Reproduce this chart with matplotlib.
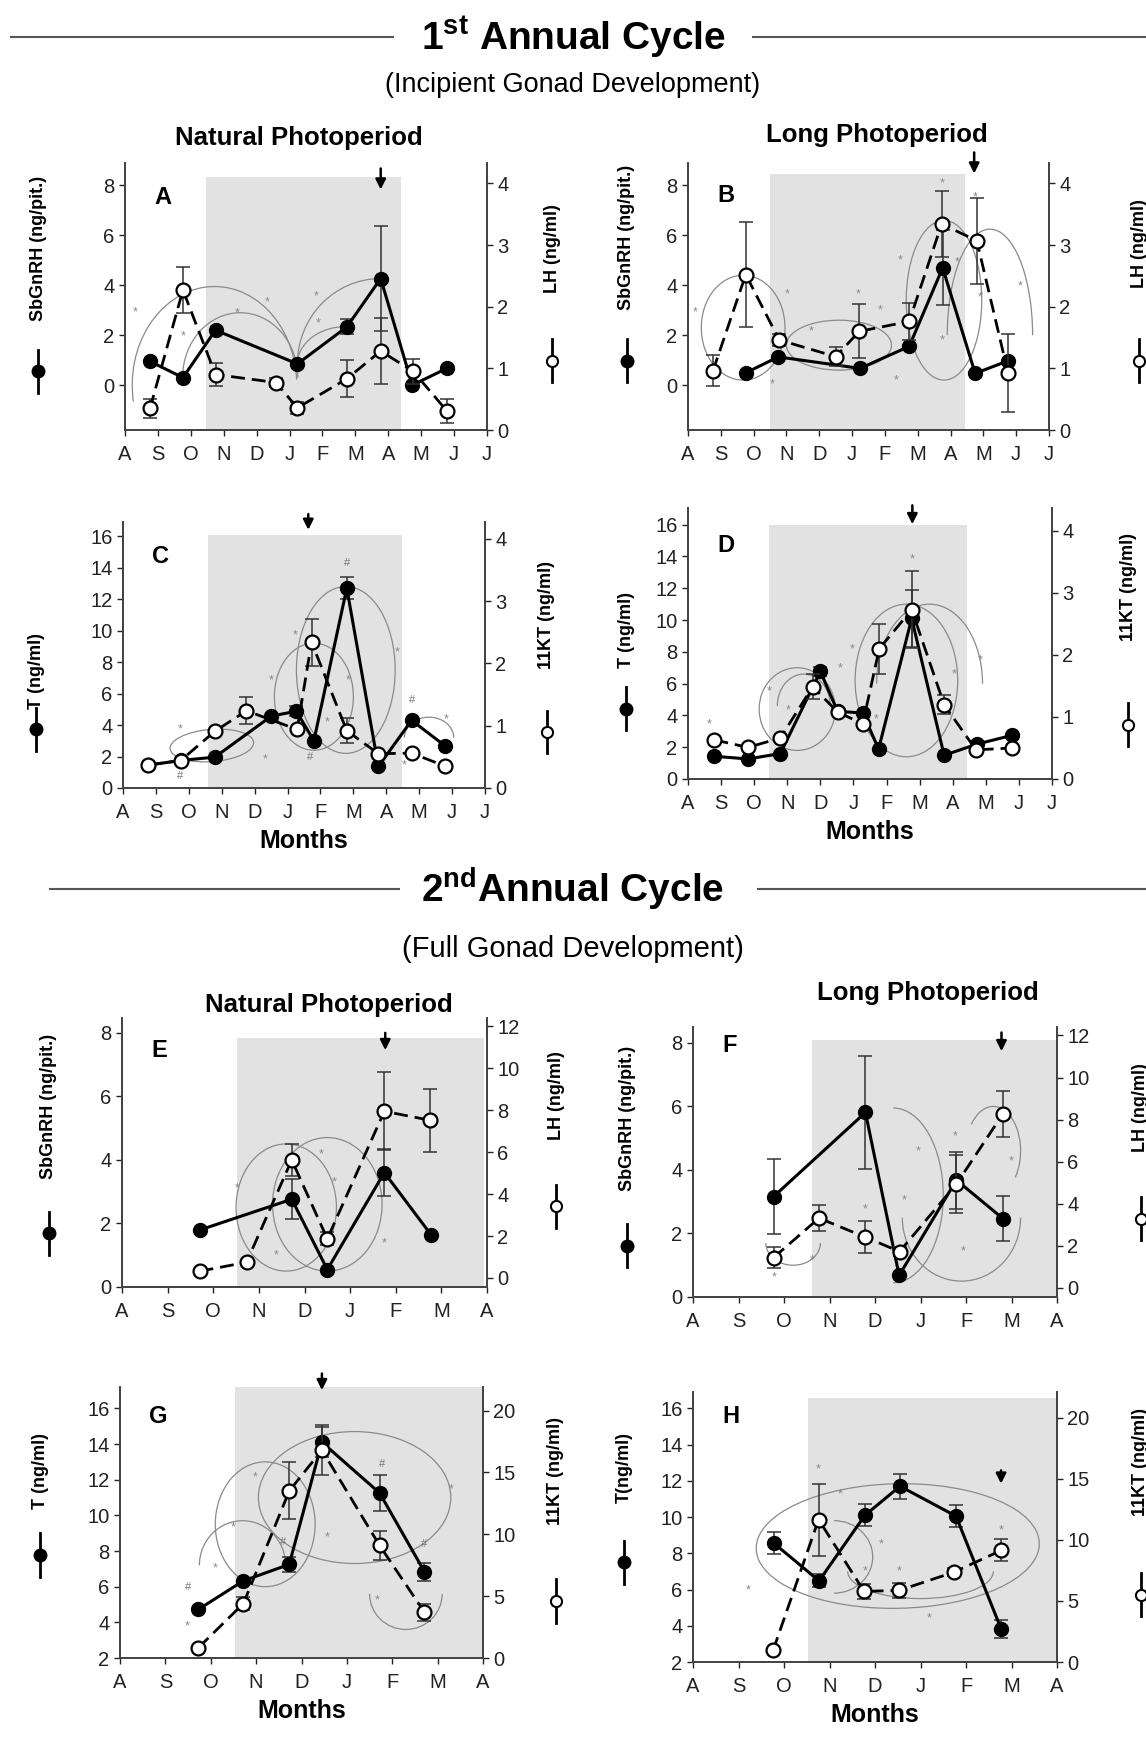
import numpy as np
import matplotlib
matplotlib.use("Agg")
import matplotlib.pyplot as plt
from matplotlib.patches import Arc
from matplotlib.lines import Line2D

plt.rcParams['font.family'] = ['Liberation Sans', 'DejaVu Sans']
plt.rcParams['mathtext.fontset'] = 'custom'
plt.rcParams['mathtext.rm'] = 'Liberation Sans'
plt.rcParams['mathtext.bf'] = 'Liberation Sans:bold'
plt.rcParams['xtick.labelsize'] = 14.5
plt.rcParams['ytick.labelsize'] = 14.5

W, H = 1146, 1737

# ---- data (x = months since August, left axis = filled, right axis = open) ----
months12 = ['A', 'S', 'O', 'N', 'D', 'J', 'F', 'M', 'A', 'M', 'J', 'J']
months9 = ['A', 'S', 'O', 'N', 'D', 'J', 'F', 'M', 'A']

# A: SbGnRH / LH, natural photoperiod, 1st cycle
a_fill_x = [0.76, 1.76, 2.75, 5.24, 6.74, 7.77, 8.73, 9.78]
a_fill_y = [0.95, 0.3, 2.2, 0.85, 2.33, 4.27, 0.0, 0.67]
a_fill_e = [0, 0, 0, 0, 0.3, 2.1, 0, 0]
a_open_x = [0.76, 1.76, 2.75, 4.58, 5.24, 6.74, 7.77, 8.76, 9.78]
a_open_y = [0.35, 2.27, 0.9, 0.77, 0.36, 0.83, 1.28, 0.95, 0.31]
a_open_e = [0.15, 0.37, 0.19, 0.08, 0.1, 0.3, 0.54, 0.2, 0.2]

# B: SbGnRH / LH, long photoperiod, 1st cycle
b_fill_x = [1.76, 2.75, 5.24, 6.74, 7.76, 8.75, 9.75]
b_fill_y = [0.49, 1.13, 0.67, 1.55, 4.7, 0.47, 0.97]
b_fill_e = [0, 0, 0, 0, 1.5, 0, 0]
b_open_x = [0.76, 1.76, 2.78, 4.5, 5.22, 6.74, 7.73, 8.8, 9.75]
b_open_y = [0.96, 2.52, 1.46, 1.19, 1.6, 1.76, 3.34, 3.07, 0.93]
b_open_e = [0.25, 0.85, 0.1, 0.15, 0.44, 0.3, 0.54, 0.7, 0.63]

# C: T / 11KT, natural photoperiod, 1st cycle
c_fill_x = [0.76, 1.75, 2.79, 4.51, 5.27, 5.8, 6.8, 7.76, 8.77, 9.79]
c_fill_y = [1.45, 1.75, 1.96, 4.57, 4.88, 3.0, 12.7, 1.37, 4.3, 2.67]
c_fill_e = [0, 0, 0, 0, 0.3, 0, 0.7, 0, 0, 0]
c_open_x = [0.76, 1.75, 2.79, 3.75, 5.29, 5.73, 6.8, 7.76, 8.77, 9.79]
c_open_y = [0.37, 0.44, 0.91, 1.24, 0.94, 2.34, 0.92, 0.55, 0.56, 0.35]
c_open_e = [0, 0, 0, 0.22, 0, 0.38, 0.2, 0, 0, 0]

# D: T / 11KT, long photoperiod, 1st cycle
d_fill_x = [0.8, 1.81, 2.79, 4.0, 4.52, 5.28, 5.76, 6.76, 7.74, 8.74, 9.8]
d_fill_y = [1.43, 1.26, 1.6, 6.77, 4.26, 4.15, 1.89, 10.1, 1.49, 2.2, 2.75]
d_fill_e = [0, 0, 0, 0.3, 0, 0, 0, 1.8, 0, 0, 0]
d_open_x = [0.8, 1.81, 2.79, 3.77, 4.52, 5.28, 5.78, 6.76, 7.74, 8.7, 9.8]
d_open_y = [0.63, 0.51, 0.66, 1.49, 1.08, 0.89, 2.1, 2.73, 1.2, 0.47, 0.5]
d_open_e = [0, 0, 0, 0.2, 0, 0, 0.4, 0.62, 0.15, 0, 0]

# E: SbGnRH / LH, natural photoperiod, 2nd cycle
e_fill_x = [1.7, 3.72, 4.5, 5.75, 6.78]
e_fill_y = [1.79, 2.76, 0.55, 3.6, 1.63]
e_fill_e = [0, 0.63, 0, 0.75, 0]
e_open_x = [1.7, 2.73, 3.72, 4.5, 5.75, 6.76]
e_open_y = [0.32, 0.75, 5.63, 1.87, 7.95, 7.52]
e_open_e = [0, 0, 0.77, 0.3, 1.86, 1.5]

# F: SbGnRH / LH, long photoperiod, 2nd cycle
f_fill_x = [1.77, 3.79, 4.53, 5.79, 6.81]
f_fill_y = [3.16, 5.81, 0.68, 3.68, 2.47]
f_fill_e = [1.17, 1.78, 0, 0.9, 0.7]
f_open_x = [1.77, 2.77, 3.79, 4.54, 5.79, 6.81]
f_open_y = [1.44, 3.32, 2.41, 1.73, 4.94, 8.27]
f_open_e = [0.5, 0.6, 0.75, 0.2, 1.4, 1.1]

# G: T / 11KT, natural photoperiod, 2nd cycle
g_fill_x = [1.73, 2.72, 3.73, 4.45, 5.72, 6.71]
g_fill_y = [4.73, 6.33, 7.25, 14.1, 11.26, 6.84]
g_fill_e = [0, 0, 0.4, 0.85, 1.0, 0.5]
g_open_x = [1.73, 2.72, 3.73, 4.45, 5.72, 6.71]
g_open_y = [0.84, 4.4, 13.5, 16.8, 9.1, 3.7]
g_open_e = [0, 0.5, 2.3, 2.0, 1.2, 0.7]

# H: T / 11KT, long photoperiod, 2nd cycle
h_fill_x = [1.77, 2.77, 3.78, 4.55, 5.78, 6.77]
h_fill_y = [8.57, 6.48, 10.1, 11.7, 10.05, 3.84]
h_fill_e = [0.6, 0.35, 0.6, 0.7, 0.6, 0.5]
h_open_x = [1.76, 2.76, 3.76, 4.53, 5.74, 6.77]
h_open_y = [0.95, 11.66, 5.78, 5.86, 7.36, 9.13]
h_open_e = [0, 2.95, 0.6, 0.6, 0.3, 0.9]

# significance marks (left-axis units)
a_star = [(0.31, 2.93), (1.76, 1.96), (3.41, 2.87), (4.33, 3.33), (5.8, 3.57), (5.86, 2.47)]
b_star = [(0.23, 2.9), (3.02, 3.64), (2.57, 0.03), (3.76, 2.13), (5.19, 3.64), (5.85, 3.0),
          (6.46, 5.0), (6.33, 0.2), (7.73, 8.1), (7.73, 1.8), (8.19, 4.93), (8.75, 7.53),
          (8.9, 3.53), (10.12, 3.96)]
c_star = [(1.74, 3.73), (4.31, 1.79), (4.51, 6.84), (5.22, 9.68), (6.21, 4.15), (6.85, 6.84),
          (8.32, 8.63), (8.55, 1.43), (9.82, 4.36)]
c_hash = [(1.72, 0.74), (5.68, 2.0), (6.8, 14.3), (8.77, 5.58)]
d_star = [(0.63, 3.46), (2.46, 5.51), (3.02, 4.3), (4.6, 6.98), (4.95, 8.18), (5.68, 3.73),
          (6.76, 13.84), (8.04, 6.6), (8.82, 7.46)]
e_star = [(2.53, 3.1), (3.38, 1.0), (4.37, 4.16), (4.66, 3.28), (5.74, 1.37)]
f_star = [(1.78, 0.63), (2.62, 1.14), (3.79, 2.76), (4.95, 4.58), (4.65, 3.05), (5.77, 5.05),
          (5.93, 1.42), (7.0, 4.26)]
g_star = [(1.49, 3.77), (2.1, 7.03), (2.49, 9.33), (2.98, 12.1), (4.56, 8.78), (5.66, 5.22),
          (7.3, 11.45)]
g_hash = [(1.51, 6.0), (3.6, 8.5), (5.77, 12.9), (6.71, 8.4)]
h_star = [(1.21, 5.96), (2.76, 12.63), (3.23, 11.24), (4.14, 8.5), (3.78, 7.0), (4.53, 7.0),
          (5.19, 4.39), (6.77, 9.24)]

# grouping ellipses: cx, cy, w, h, angle, theta1, theta2 (left-axis units)
a_ell = [(2.72, 0.0, 5.0, 7.9, 0, 5, 195), (3.5, 0.3, 3.5, 5.2, 0, 0, 180),
         (7.77, 0.85, 5.06, 6.84, 0, 90, 180), (6.74, 0.85, 3.0, 3.0, 0, 90, 180)]
b_ell = [(1.68, 2.3, 2.55, 4.2, 0, 0, 360), (4.6, 1.6, 3.2, 2.0, 0, 0, 360),
         (7.8, 3.4, 2.3, 6.4, 0, 0, 360), (9.2, 2.0, 2.6, 8.5, 0, 0, 180)]
c_ell = [(2.7, 2.7, 2.6, 2.0, 20, 0, 360), (5.8, 5.8, 2.4, 6.8, 0, 0, 360),
         (6.77, 7.5, 3.0, 10.6, 0, 0, 360), (9.3, 3.2, 1.5, 2.6, 0, 0, 180)]
d_ell = [(3.3, 4.4, 2.3, 5.2, 0, 0, 360), (3.5, 4.6, 1.6, 4.0, 0, 0, 180),
         (6.6, 6.2, 3.1, 9.6, 0, 0, 360), (7.3, 6.0, 3.2, 10.0, 0, 0, 180)]
e_ell = [(3.6, 2.5, 2.2, 4.0, 0, 0, 360), (4.5, 2.6, 2.4, 4.2, 0, 0, 360)]
f_ell = [(4.4, 3.2, 2.2, 5.5, 0, -90, 90), (2.2, 1.7, 1.2, 1.4, 0, 180, 360),
         (5.9, 2.5, 2.6, 4.0, 0, 180, 360), (6.6, 4.6, 1.2, 2.8, 0, -60, 120)]
g_ell = [(5.17, 11.0, 4.24, 7.4, 0, 0, 360), (3.2, 9.5, 2.2, 7.0, 0, 0, 360),
         (2.7, 7.2, 1.9, 5.0, 0, 0, 180), (6.3, 5.6, 1.6, 4.0, 0, 180, 360)]
h_ell = [(4.5, 8.4, 6.2, 6.9, -10, 0, 360), (3.1, 7.8, 1.7, 4.0, 0, -90, 90),
         (5.0, 7.0, 3.2, 3.0, 0, 180, 360)]

fig = plt.figure(figsize=(W / 100, H / 100), dpi=100)


def fx(px):
    return px / W


def fy(py):
    return 1 - py / H


def panel(box, letter, fx_, fy_, fe_, ox_, oy_, oe_, xlabels, ylim_l, lticks, ylim_r, rticks,
          shade, arrow, lab_l, lab_r, lab_pos, stars, hashes, ells, months=False):
    l, r, t, b = box
    ax = fig.add_axes([fx(l), fy(b), fx(r - l), (b - t) / H])
    ax2 = ax.twinx()
    n = len(xlabels) - 1
    for a in (ax, ax2):
        a.set_xlim(0, n)
        a.spines['top'].set_visible(False)
        for s in ('left', 'right', 'bottom'):
            a.spines[s].set_color('#444444')
            a.spines[s].set_linewidth(1.3)
        a.tick_params(direction='out', length=4, width=1, colors='#222222')
    ax.set_ylim(*ylim_l)
    ax2.set_ylim(*ylim_r)
    ax.set_yticks(lticks)
    ax2.set_yticks(rticks)
    ax.set_xticks(range(n + 1))
    ax.set_xticklabels(xlabels)
    ax.tick_params(axis='x', pad=7)

    # photoperiod shading
    x0, x1, top = shade
    ax.fill_between([x0, x1], ylim_l[0], top, color='#e2e2e2', lw=0, zorder=0)

    for (cx, cy, w, h, ang, t1, t2) in ells:
        ax.add_patch(Arc((cx, cy), w, h, angle=ang, theta1=t1, theta2=t2,
                         color='#8a8a8a', lw=0.9, zorder=1))
    for (sx, sy) in stars:
        ax.text(sx, sy, '*', fontsize=9, color='#888888', ha='center', va='center', zorder=2)
    for (sx, sy) in hashes:
        ax.text(sx, sy, '#', fontsize=8, color='#777777', ha='center', va='center', zorder=2)

    fx_, fy_, fe_ = map(np.array, (fx_, fy_, fe_))
    ox_, oy_, oe_ = map(np.array, (ox_, oy_, oe_))
    m = fe_ > 0
    ax.errorbar(fx_[m], fy_[m], yerr=fe_[m], fmt='none', ecolor='#333333',
                elinewidth=1.1, capsize=5, capthick=1.1, zorder=3)
    ax.plot(fx_, fy_, '-', color='black', lw=2.2, marker='o', ms=10,
            mfc='black', mec='black', zorder=4)
    m = oe_ > 0
    ax2.errorbar(ox_[m], oy_[m], yerr=oe_[m], fmt='none', ecolor='#333333',
                 elinewidth=1.1, capsize=5, capthick=1.1, zorder=3)
    ax2.plot(ox_, oy_, '--', color='black', lw=2.0, dashes=(5, 2.5), marker='o', ms=10,
             mfc='white', mec='black', mew=1.6, zorder=4)

    ax.text(0.08, lab_pos[8], letter, transform=ax.transAxes, fontsize=17,
            fontweight='bold', ha='left', va='center')

    ax_, ay0, ay1 = arrow
    ax.annotate('', xy=(ax_, ay0), xycoords=('data', 'axes fraction'),
                xytext=(ax_, ay1), textcoords=('data', 'axes fraction'),
                arrowprops=dict(arrowstyle='-|>', color='black', lw=1.8,
                                mutation_scale=15), annotation_clip=False)

    lx, ly, lsy, rx, ry, rsy = lab_pos[:6]
    ax.text(lx, ly, lab_l, transform=ax.transAxes, rotation=90, fontsize=13,
            fontweight='bold', ha='center', va='center')
    ax.text(rx, ry, lab_r, transform=ax.transAxes, rotation=90, fontsize=13,
            fontweight='bold', ha='center', va='center')
    ax.plot([lx, lx, lx], [lsy - 0.08, lsy, lsy + 0.08], '-', color='black', lw=2,
            marker='o', markevery=[1], ms=9, mfc='black', mec='black',
            transform=ax.transAxes, clip_on=False)
    ax.plot([rx, rx, rx], [rsy - 0.08, rsy, rsy + 0.08], '-', color='black', lw=2,
            marker='o', markevery=[1], ms=8, mfc='white', mec='black', mew=1.5,
            transform=ax.transAxes, clip_on=False)
    if months:
        ax.set_xlabel('Months', fontsize=18, fontweight='bold', labelpad=5)
    return ax


ticks_g = [0, 2, 4, 6, 8]
ticks_t = list(range(0, 17, 2))
ticks_t2 = list(range(2, 17, 2))

panel((125, 487, 163, 430), 'A', a_fill_x, a_fill_y, a_fill_e, a_open_x, a_open_y, a_open_e,
      months12, (-1.8, 8.9), ticks_g, (0, 4.33), [0, 1, 2, 3, 4],
      (2.47, 8.4, 8.33), (7.77, 0.89, 0.99), 'SbGnRH (ng/pit.)', 'LH (ng/ml)',
      (-0.24, 0.68, 0.22, 1.18, 0.68, 0.26, 0, 0, 0.87), a_star, [], a_ell)
panel((688, 1049, 163, 430), 'B', b_fill_x, b_fill_y, b_fill_e, b_open_x, b_open_y, b_open_e,
      months12, (-1.8, 8.9), ticks_g, (0, 4.33), [0, 1, 2, 3, 4],
      (2.49, 8.44, 8.47), (8.72, 0.95, 1.05), 'SbGnRH (ng/pit.)', 'LH (ng/ml)',
      (-0.17, 0.72, 0.26, 1.25, 0.70, 0.26, 0, 0, 0.88), b_star, [], b_ell)
panel((123, 485, 522, 788), 'C', c_fill_x, c_fill_y, c_fill_e, c_open_x, c_open_y, c_open_e,
      months12, (0, 16.9), ticks_t, (0, 4.27), [0, 1, 2, 3, 4],
      (2.57, 8.47, 16.1), (5.63, 0.96, 1.04), 'T (ng/ml)', '11KT (ng/ml)',
      (-0.24, 0.44, 0.22, 1.17, 0.65, 0.21, 0, 0, 0.87), c_star, c_hash, c_ell, months=True)
panel((688, 1052, 508, 779), 'D', d_fill_x, d_fill_y, d_fill_e, d_open_x, d_open_y, d_open_e,
      months12, (0, 17.05), ticks_t, (0, 4.37), [0, 1, 2, 3, 4],
      (2.46, 8.44, 16.0), (6.78, 0.93, 1.02), 'T (ng/ml)', '11KT (ng/ml)',
      (-0.17, 0.55, 0.26, 1.21, 0.71, 0.20, 0, 0, 0.86), d_star, [], d_ell, months=True)
panel((122, 487, 1018, 1287), 'E', e_fill_x, e_fill_y, e_fill_e, e_open_x, e_open_y, e_open_e,
      months9, (0, 8.46), ticks_g, (-0.43, 12.4), list(range(0, 13, 2)),
      (2.53, 7.93, 7.84), (5.77, 0.87, 0.955), 'SbGnRH (ng/pit.)', 'LH (ng/ml)',
      (-0.2, 0.67, 0.2, 1.19, 0.71, 0.3, 0, 0, 0.88), e_star, [], e_ell)
panel((693, 1057, 1027, 1297), 'F', f_fill_x, f_fill_y, f_fill_e, f_open_x, f_open_y, f_open_e,
      months9, (0, 8.5), ticks_g, (-0.43, 12.4), list(range(0, 13, 2)),
      (2.62, 8.0, 8.1), (6.78, 0.90, 0.99), 'SbGnRH (ng/pit.)', 'LH (ng/ml)',
      (-0.18, 0.66, 0.19, 1.23, 0.70, 0.29, 0, 0, 0.93), f_star, [], f_ell)
panel((120, 483, 1387, 1658), 'G', g_fill_x, g_fill_y, g_fill_e, g_open_x, g_open_y, g_open_e,
      months9, (2, 17.2), ticks_t2, (0, 21.9), [0, 5, 10, 15, 20],
      (2.54, 8.0, 17.2), (4.45, 0.978, 1.06), 'T (ng/ml)', '11KT (ng/ml)',
      (-0.22, 0.69, 0.38, 1.2, 0.69, 0.21, 0, 0, 0.89), g_star, g_hash, g_ell, months=True)
panel((693, 1057, 1392, 1662), 'H', h_fill_x, h_fill_y, h_fill_e, h_open_x, h_open_y, h_open_e,
      months9, (2, 16.9), ticks_t2, (0, 22.1), [0, 5, 10, 15, 20],
      (2.53, 8.0, 16.55), (6.77, 0.65, 0.72), 'T(ng/ml)', '11KT (ng/ml)',
      (-0.19, 0.72, 0.37, 1.23, 0.74, 0.25, 0, 0, 0.91), h_star, [], h_ell, months=True)

# section headings
fig.text(fx(573), fy(37), r'1$^{\mathbf{st}}$ Annual Cycle', fontsize=28, fontweight='bold',
         ha='center', va='center')
fig.add_artist(Line2D([fx(11), fx(393)], [fy(37), fy(37)], color='#555555', lw=1.5))
fig.add_artist(Line2D([fx(753), fx(1146)], [fy(37), fy(37)], color='#555555', lw=1.5))
fig.text(fx(573), fy(85), '(Incipient Gonad Development)', fontsize=19.5, ha='center', va='center')
fig.text(fx(299), fy(138), 'Natural Photoperiod', fontsize=18.5, fontweight='bold',
         ha='center', va='center')
fig.text(fx(877), fy(135), 'Long Photoperiod', fontsize=18.5, fontweight='bold',
         ha='center', va='center')

fig.text(fx(573), fy(889), r'2$^{\mathbf{nd}}$Annual Cycle', fontsize=28, fontweight='bold',
         ha='center', va='center')
fig.add_artist(Line2D([fx(50), fx(399)], [fy(889), fy(889)], color='#555555', lw=1.5))
fig.add_artist(Line2D([fx(758), fx(1146)], [fy(889), fy(889)], color='#555555', lw=1.5))
fig.text(fx(573), fy(949), '(Full Gonad Development)', fontsize=21, ha='center', va='center')
fig.text(fx(329), fy(1005), 'Natural Photoperiod', fontsize=18.5, fontweight='bold',
         ha='center', va='center')
fig.text(fx(928), fy(993), 'Long Photoperiod', fontsize=18.5, fontweight='bold',
         ha='center', va='center')

fig.savefig('out.png', dpi=100, facecolor='white')
